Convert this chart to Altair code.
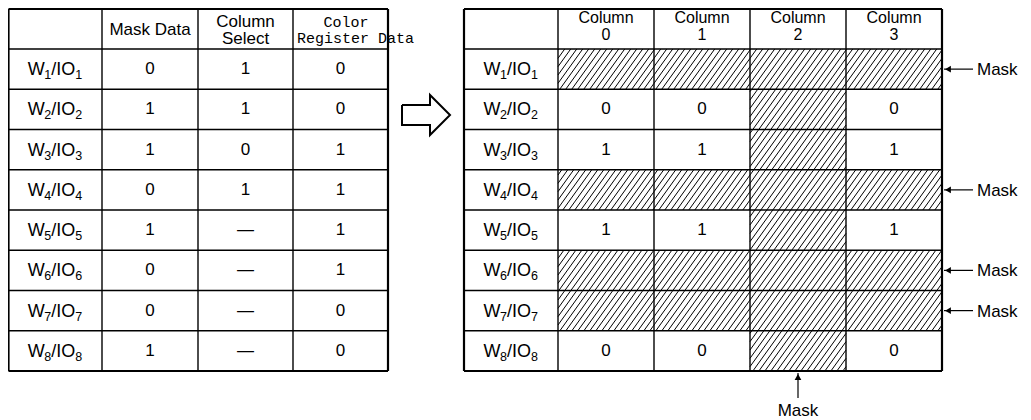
import altair as alt
import pandas as pd

# ---------------- data ----------------
row_word = "W"
row_mid_txt = "/IO"
row_index = ["1", "2", "3", "4", "5", "6", "7", "8"]
mask_data = ["0", "1", "1", "0", "1", "0", "0", "1"]
column_select = ["1", "1", "0", "1", "—", "—", "—", "—"]
color_register = ["0", "0", "1", "1", "1", "1", "0", "0"]
left_header_1 = ["Mask Data"]
left_header_2 = ["Column", "Select"]
left_header_3 = ["Color", "Register Data"]
right_header_top = ["Column", "Column", "Column", "Column"]
right_header_num = ["0", "1", "2", "3"]
mask_label = "Mask"

# ---------------- layout (pixels in page coordinates) ----------------
LX = [8.5, 102, 198, 293, 388]
RX = [464, 558, 654, 750, 846, 942]
TOP, HEAD, ROWH = 9, 49, 40.25
NROW = len(row_index)
BOT = HEAD + ROWH * NROW
FONT = "Liberation Sans"
MONO = "Liberation Mono"
FS_MAIN, FS_SUB = 18, 12.5

def row_mid(i):
    return HEAD + ROWH * (i + 0.5)

# ---------------- grid lines ----------------
segs = []
for edges in (LX, RX):
    for k, xv in enumerate(edges):
        w = 2.2 if k in (0, len(edges) - 1) else 1.4
        segs.append(dict(x=xv, y=TOP, x2=xv, y2=BOT, w=w))
    ys_ = [TOP, HEAD] + [HEAD + ROWH * (i + 1) for i in range(NROW)]
    for k, yv in enumerate(ys_):
        w = 2.2 if k in (0, len(ys_) - 1) else 1.4
        segs.append(dict(x=edges[0], y=yv, x2=edges[-1], y2=yv, w=w))
grid_df = pd.DataFrame(segs)

# ---------------- masked cells + hatching ----------------
masked_rows = [i for i, m in enumerate(mask_data) if m == "0"]
masked_cols = [c for c in range(4) if column_select[c] == "0"]
S, D = 0.72, 6.0   # hatch slope (dx per dy) and spacing
hatch = []
right_vals = []
for r in range(NROW):
    for c in range(4):
        x0, x1 = RX[c + 1], RX[c + 2]
        y0, y1 = HEAD + ROWH * r, HEAD + ROWH * (r + 1)
        if r in masked_rows or c in masked_cols:
            cmin, cmax = x0 + S * y0, x1 + S * y1
            k = int(cmin // D) + 1
            while k * D < cmax:
                cc = k * D
                ya = max(y0, (cc - x1) / S)
                yb = min(y1, (cc - x0) / S)
                if yb > ya + 0.3:
                    hatch.append(dict(x=cc - S * ya, y=ya, x2=cc - S * yb, y2=yb))
                k += 1
        else:
            right_vals.append(dict(x=(x0 + x1) / 2, y=row_mid(r), t=color_register[r]))
hatch_df = pd.DataFrame(hatch)

# ---------------- row labels W_n/IO_n built from pieces ----------------
W_W = 0.944 * FS_MAIN
W_MID = (0.278 + 0.278 + 0.778) * FS_MAIN
W_SUB = 0.556 * FS_SUB
W_ALL = W_W + W_SUB + W_MID + W_SUB
main_pieces, sub_pieces = [], []
for cx in ((LX[0] + LX[1]) / 2, (RX[0] + RX[1]) / 2):
    for i, n in enumerate(row_index):
        x0 = cx - W_ALL / 2
        yb = row_mid(i) + 6
        main_pieces.append(dict(x=x0, y=yb, t=row_word))
        sub_pieces.append(dict(x=x0 + W_W - 0.5, y=yb + 4, t=n))
        main_pieces.append(dict(x=x0 + W_W + W_SUB - 0.5, y=yb, t=row_mid_txt))
        sub_pieces.append(dict(x=x0 + W_W + W_SUB + W_MID - 0.5, y=yb + 4, t=n))
main_df = pd.DataFrame(main_pieces)
sub_df = pd.DataFrame(sub_pieces)

# ---------------- cell texts ----------------
center_txt = []
for i in range(NROW):
    center_txt.append(dict(x=(LX[1] + LX[2]) / 2, y=row_mid(i), t=mask_data[i]))
    center_txt.append(dict(x=(LX[2] + LX[3]) / 2, y=row_mid(i), t=column_select[i]))
    center_txt.append(dict(x=(LX[3] + LX[4]) / 2, y=row_mid(i), t=color_register[i]))
center_txt += right_vals
center_df = pd.DataFrame(center_txt)

head_txt = [dict(x=(LX[1] + LX[2]) / 2, y=35, t=left_header_1[0]),
            dict(x=(LX[2] + LX[3]) / 2, y=27, t=left_header_2[0]),
            dict(x=(LX[2] + LX[3]) / 2, y=44, t=left_header_2[1])]
head_df = pd.DataFrame(head_txt)
rhead_txt = []
for c in range(4):
    xm = (RX[c + 1] + RX[c + 2]) / 2
    rhead_txt.append(dict(x=xm, y=23, t=right_header_top[c]))
    rhead_txt.append(dict(x=xm, y=40, t=right_header_num[c]))
rhead_df = pd.DataFrame(rhead_txt)

mono_c_df = pd.DataFrame([dict(x=LX[3] + 53, y=27, t=left_header_3[0])])
mono_l_df = pd.DataFrame([dict(x=LX[3] + 4, y=43, t=left_header_3[1])])

# mask pointers
side_rule = [dict(x=RX[-1] + 2, y=row_mid(r), x2=RX[-1] + 31, y2=row_mid(r)) for r in masked_rows]
side_head = [dict(x=RX[-1] + 6, y=row_mid(r)) for r in masked_rows]
side_txt = [dict(x=RX[-1] + 35, y=row_mid(r) + 1, t=mask_label) for r in masked_rows]
bot_rule, bot_head, bot_txt = [], [], []
for c in masked_cols:
    xm = (RX[c + 1] + RX[c + 2]) / 2
    bot_rule.append(dict(x=xm, y=BOT + 2, x2=xm, y2=BOT + 27))
    bot_head.append(dict(x=xm, y=BOT + 6))
    bot_txt.append(dict(x=xm, y=BOT + 45, t=mask_label))

# hollow arrow between tables
ax0, ax1, ax2 = 402, 430, 450
ay, sh, hh = 115, 10, 20
arrow_df = pd.DataFrame([
    dict(x=ax0, y=ay - sh, o=0), dict(x=ax1, y=ay - sh, o=1), dict(x=ax1, y=ay - hh, o=2),
    dict(x=ax2, y=ay, o=3), dict(x=ax1, y=ay + hh, o=4), dict(x=ax1, y=ay + sh, o=5),
    dict(x=ax0, y=ay + sh, o=6), dict(x=ax0, y=ay - sh, o=7)])

# ---------------- chart ----------------
xs = alt.Scale(domain=[8, 1023], nice=False, zero=False)
ysc = alt.Scale(domain=[8, 420], nice=False, zero=False, reverse=True)

def X(f="x"):
    return alt.X(f"{f}:Q", scale=xs, axis=None)

def Y(f="y"):
    return alt.Y(f"{f}:Q", scale=ysc, axis=None)

def txt(df, font=FONT, size=FS_MAIN, align="center", baseline="alphabetic"):
    return alt.Chart(df).mark_text(
        font=font, fontSize=size, align=align, baseline=baseline, color="black"
    ).encode(x=X(), y=Y(), text="t:N")

hatch_layer = alt.Chart(hatch_df).mark_rule(color="black", strokeWidth=1.0).encode(
    x=X(), y=Y(), x2="x2:Q", y2="y2:Q")
grid_layer = alt.Chart(grid_df).mark_rule(color="black").encode(
    x=X(), y=Y(), x2="x2:Q", y2="y2:Q", strokeWidth=alt.StrokeWidth("w:Q", scale=None))
center_layer = txt(center_df, size=17, baseline="middle")
main_layer = txt(main_df, align="left")
sub_layer = txt(sub_df, size=FS_SUB, align="left")
head_layer = txt(head_df, size=17)
rhead_layer = txt(rhead_df, size=16)
mono_c = txt(mono_c_df, font=MONO, size=15)
mono_l = txt(mono_l_df, font=MONO, size=15, align="left")
arrow_layer = alt.Chart(arrow_df).mark_line(color="black", strokeWidth=2, strokeJoin="miter").encode(
    x=X(), y=Y(), order="o:Q")
side_r = alt.Chart(pd.DataFrame(side_rule)).mark_rule(color="black", strokeWidth=1.2).encode(
    x=X(), y=Y(), x2="x2:Q", y2="y2:Q")
side_h = alt.Chart(pd.DataFrame(side_head)).mark_point(
    shape="triangle-left", filled=True, color="black", size=45, opacity=1).encode(x=X(), y=Y())
side_t = txt(pd.DataFrame(side_txt), size=17, align="left", baseline="middle")
bot_r = alt.Chart(pd.DataFrame(bot_rule)).mark_rule(color="black", strokeWidth=1.2).encode(
    x=X(), y=Y(), x2="x2:Q", y2="y2:Q")
bot_h = alt.Chart(pd.DataFrame(bot_head)).mark_point(
    shape="triangle-up", filled=True, color="black", size=45, opacity=1).encode(x=X(), y=Y())
bot_t = txt(pd.DataFrame(bot_txt), size=17)

chart = alt.layer(
    hatch_layer, grid_layer, center_layer, main_layer, sub_layer, head_layer, rhead_layer,
    mono_c, mono_l, arrow_layer, side_r, side_h, side_t, bot_r, bot_h, bot_t
).properties(
    width=1015, height=412, padding=0, autosize="none", background="white"
).configure_view(strokeWidth=0)

chart.save("out.html", embed_options={"renderer": "svg", "actions": False})
